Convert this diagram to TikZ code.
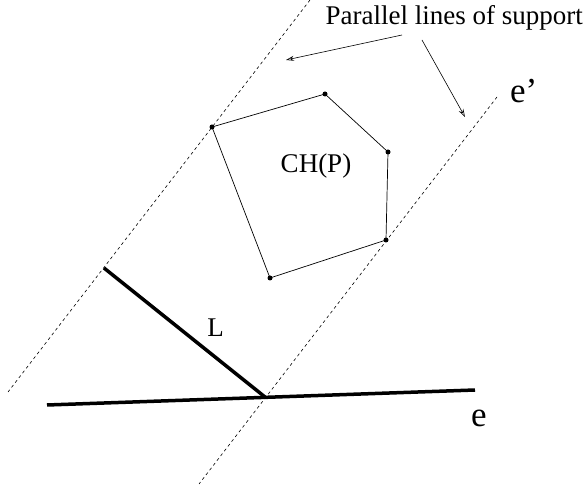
\documentclass[tikz,border=0pt]{standalone}
\usepackage{fontspec}
\setmainfont{Liberation Serif}
\usetikzlibrary{arrows.meta}
\begin{document}
\begin{tikzpicture}[x=1pt,y=-1pt,
  supp/.style={line width=0.6pt,dash pattern=on 3pt off 3pt},
  hull/.style={line width=0.7pt},
  thickln/.style={line width=3.5pt},
  vtx/.style={circle,fill=black,inner sep=0pt,minimum size=5pt},
  ptr/.style={line width=0.6pt,-{Stealth[length=8pt,width=5pt,open]}},
  lbl/.style={font=\fontsize{27}{32}\selectfont,inner sep=0pt},
  big/.style={font=\fontsize{35}{40}\selectfont,inner sep=0pt}]
\useasboundingbox (0,0) rectangle (587,489);
% polygon vertices
\node[vtx] (A) at (212,127) {};
\node[vtx] (B) at (325,94) {};
\node[vtx] (C) at (388,152) {};
\node[vtx] (D) at (386,240) {};
\node[vtx] (E) at (270,278) {};
\draw[hull] (A.center) -- (B.center) -- (C.center) -- (D.center) -- (E.center) -- cycle;
% lines of support
\coordinate (l1) at (310,0);
\coordinate (l2) at (8,392);
\coordinate (r1) at (497,97);
\coordinate (r2) at (199,484);
\draw[supp] (l1) -- (l2);
\draw[supp] (r1) -- (r2);
% L and e
\coordinate (La) at (104,268);
\coordinate (Lb) at (265,397);
\draw[thickln] (La) -- (Lb);
\coordinate (ea) at (47,405);
\coordinate (eb) at (475,390);
\draw[thickln] (ea) -- (eb);
% labels
\node[lbl,anchor=base east] (title) at (583,25) {Parallel lines of support};
\node[lbl,anchor=base] (CH) at (316,173) {CH(P)};
\node[lbl,anchor=base] (Lt) at (215.5,337) {L};
\node[big,anchor=base] (et) at (479,426) {e};
\node[big,anchor=base west] (ept) at (510,103) {e'};
% pointers
\coordinate (p1s) at (402,35);
\coordinate (p1e) at (286,60);
\coordinate (p2s) at (422,40);
\coordinate (p2e) at (465,117);
\draw[ptr] (p1s) -- (p1e);
\draw[ptr] (p2s) -- (p2e);
\end{tikzpicture}
\end{document}
